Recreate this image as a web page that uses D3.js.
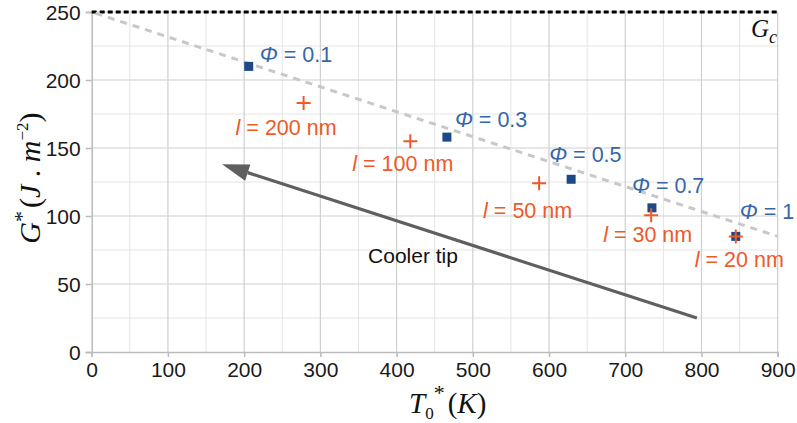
<!DOCTYPE html>
<html><head><meta charset="utf-8">
<script src="https://cdn.jsdelivr.net/npm/d3@7"></script>
<style>
body{margin:0;background:#fff;}
text{font-family:"Liberation Sans",Arial,sans-serif;}
.serif{font-family:"Liberation Serif","DejaVu Serif",serif;}
</style></head>
<body>
<svg id="chart" width="797" height="423"></svg>
<script>
// ---- data ----
const phiLabels = ["0.1","0.3","0.5","0.7","1"];
const phiT = [206, 466, 629, 735, 845];
const phiG = [210, 158, 127, 106, 85];
const lenLabels = ["200","100","50","30","20"];
const lenT = [278, 418, 587, 734, 845];
const lenG = [183, 155, 124, 100.5, 85];
const fitT = [0, 900];
const fitG = [250, 85];
const Gc = 250;
const arrowT = [794, 171];
const arrowG = [25, 138];
const xTicks = [0,100,200,300,400,500,600,700,800,900];
const yTicks = [0,50,100,150,200,250];

// label offsets (px) relative to their point
const phiOff = [[11,-4],[8,-10],[-22,-17],[-20,-15],[4,-17]];
const lenOff = [[-68,32],[-58,30],[-56,35],[-48,27],[-41,31]];

const svg = d3.select("#chart");
const x = d3.scaleLinear().domain([0,900]).range([91.7,777.7]);
const y = d3.scaleLinear().domain([0,250]).range([352,12]);

// grid
const g = svg.append("g");
g.selectAll(".mx").data(d3.range(50,900,100)).enter().append("line")
  .attr("x1",d=>x(d)).attr("x2",d=>x(d)).attr("y1",y(0)).attr("y2",y(250))
  .attr("stroke","#e4e4e4").attr("stroke-width",1);
g.selectAll(".my").data(d3.range(25,250,50)).enter().append("line")
  .attr("y1",d=>y(d)).attr("y2",d=>y(d)).attr("x1",x(0)).attr("x2",x(900))
  .attr("stroke","#e4e4e4").attr("stroke-width",1);
g.selectAll(".Mx").data(xTicks.slice(1)).enter().append("line")
  .attr("x1",d=>x(d)).attr("x2",d=>x(d)).attr("y1",y(0)).attr("y2",y(250))
  .attr("stroke","#cfcfcf").attr("stroke-width",1.2);
g.selectAll(".My").data(yTicks.slice(1)).enter().append("line")
  .attr("y1",d=>y(d)).attr("y2",d=>y(d)).attr("x1",x(0)).attr("x2",x(900))
  .attr("stroke","#cfcfcf").attr("stroke-width",1.2);

// axes
const xAxis = svg.append("g").attr("transform",`translate(0,${y(0)})`)
  .call(d3.axisBottom(x).tickValues(xTicks).tickSize(5).tickPadding(5));
const yAxis = svg.append("g").attr("transform",`translate(${x(0)},0)`)
  .call(d3.axisLeft(y).tickValues(yTicks).tickSize(6).tickPadding(5));
[xAxis,yAxis].forEach(a=>{
  a.select(".domain").attr("stroke","#bbb").attr("stroke-width",1.5);
  a.selectAll(".tick line").attr("stroke","#bbb").attr("stroke-width",1.5);
  a.selectAll(".tick text").attr("fill","#1a1a1a").style("font-size","21px")
   .style("font-family","Liberation Sans, Arial, sans-serif");
});
yAxis.selectAll(".tick text").attr("dy","0.36em");

// Gc line
svg.append("line").attr("x1",x(0)).attr("x2",x(900)).attr("y1",y(Gc)).attr("y2",y(Gc))
  .attr("stroke","#000").attr("stroke-width",3).attr("stroke-dasharray","5,3");
const gcT = svg.append("text").attr("class","serif").attr("x",751).attr("y",37)
  .style("font-size","25px").style("font-style","italic").attr("fill","#111");
gcT.append("tspan").text("G");
gcT.append("tspan").text("c").style("font-size","18px").attr("dy",6);

// fit line
svg.append("line").attr("x1",x(fitT[0])).attr("y1",y(fitG[0])).attr("x2",x(fitT[1])).attr("y2",y(fitG[1]))
  .attr("stroke","#c8c8c8").attr("stroke-width",3).attr("stroke-dasharray","7,6").attr("stroke-dashoffset",-4);

// arrow
const ax1=x(arrowT[0]), ay1=y(arrowG[0]), ax2=x(arrowT[1]), ay2=y(arrowG[1]);
const ang = Math.atan2(ay2-ay1, ax2-ax1);
const hl=27, hw=8.5;
const bx = ax2 - hl*Math.cos(ang), by = ay2 - hl*Math.sin(ang);
svg.append("line").attr("x1",ax1).attr("y1",ay1).attr("x2",bx).attr("y2",by)
  .attr("stroke","#5f5f5f").attr("stroke-width",3.2);
svg.append("path").attr("d",`M${ax2},${ay2}L${bx+hw*Math.sin(ang)},${by-hw*Math.cos(ang)}L${bx-hw*Math.sin(ang)},${by+hw*Math.cos(ang)}Z`)
  .attr("fill","#5f5f5f");
svg.append("text").attr("x",413).attr("y",263).attr("text-anchor","middle")
  .style("font-size","21px").attr("fill","#111").text("Cooler tip");

// blue squares
svg.selectAll(".sq").data(phiT).enter().append("rect")
  .attr("x",(d,i)=>x(d)-4.5).attr("y",(d,i)=>y(phiG[i])-4.5).attr("width",9).attr("height",9)
  .attr("fill","#1d4a87");
// red plus
svg.selectAll(".pl").data(lenT).enter().append("path")
  .attr("d",(d,i)=>{const cx=x(d),cy=y(lenG[i]);return `M${cx-7},${cy}H${cx+7}M${cx},${cy-7}V${cy+7}`;})
  .attr("stroke","#ee5a2a").attr("stroke-width",2);

// labels
phiT.forEach((d,i)=>{
  const t = svg.append("text").attr("x",x(d)+phiOff[i][0]).attr("y",y(phiG[i])+phiOff[i][1])
    .style("font-size","21.5px").attr("fill","#3766aa");
  t.append("tspan").text("Φ").style("font-style","italic");
  t.append("tspan").text(" = "+phiLabels[i]);
});
lenT.forEach((d,i)=>{
  const t = svg.append("text").attr("x",x(d)+lenOff[i][0]).attr("y",y(lenG[i])+lenOff[i][1])
    .style("font-size","21.5px").attr("fill","#ee5a2a");
  t.append("tspan").text("l").style("font-style","italic");
  t.append("tspan").text(" = "+lenLabels[i]+" nm");
});

// x axis title
const xt = svg.append("text").attr("class","serif").attr("x",409).attr("y",413)
  .style("font-size","29px").attr("fill","#111");
xt.append("tspan").text("T").style("font-style","italic");
xt.append("tspan").text("0").style("font-size","17px").attr("dy",6);
xt.append("tspan").text("*").style("font-size","22px").attr("dy",-19);
xt.append("tspan").text("(").attr("dy",13).attr("dx",3);
xt.append("tspan").text("K").style("font-style","italic");
xt.append("tspan").text(")");

// y axis title
const yt = svg.append("text").attr("class","serif")
  .attr("transform","translate(40,178) rotate(-90)").attr("text-anchor","middle")
  .style("font-size","30px").attr("fill","#111");
yt.append("tspan").text("G").style("font-style","italic");
yt.append("tspan").text("*").style("font-size","22px").attr("dy",-11);
yt.append("tspan").text("(").attr("dy",11).attr("dx",3);
yt.append("tspan").text("J").style("font-style","italic");
yt.append("tspan").text(" . ");
yt.append("tspan").text("m").style("font-style","italic");
yt.append("tspan").text("−2").style("font-size","17px").attr("dy",-12);
yt.append("tspan").text(")").attr("dy",12);
</script>
</body></html>
